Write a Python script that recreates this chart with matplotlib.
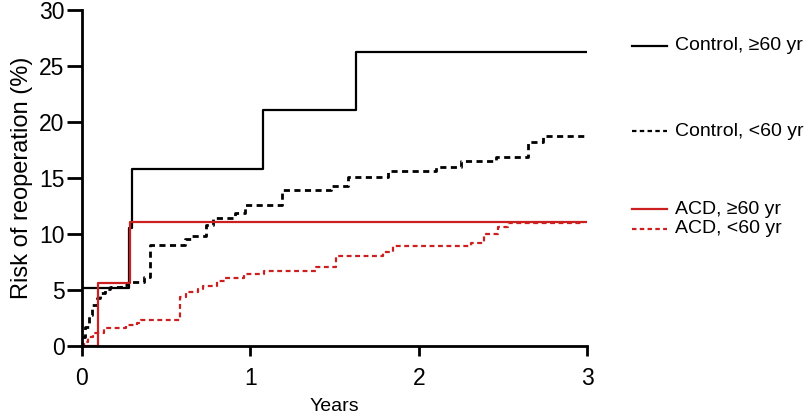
import matplotlib
matplotlib.use("Agg")
import matplotlib.pyplot as plt
from matplotlib.lines import Line2D

plt.rcParams['font.family'] = ['Liberation Sans', 'DejaVu Sans']

# Control, >=60 yr
t_ctrl_old = [0, 0.28, 0.30, 1.075, 1.63, 3.0]
v_ctrl_old = [5.2, 10.5, 15.8, 21.1, 26.3, 26.3]

# Control, <60 yr
t_ctrl_young = [0, 0.02, 0.04, 0.06, 0.09, 0.11, 0.14, 0.17, 0.23, 0.27, 0.29, 0.37,
                0.405, 0.61, 0.65, 0.74, 0.78, 0.91, 0.97, 1.19, 1.48, 1.58, 1.82,
                2.10, 2.25, 2.46, 2.65, 2.74, 2.98]
v_ctrl_young = [0.8, 1.7, 2.8, 3.7, 4.3, 4.7, 5.1, 5.3, 5.45, 5.6, 5.75, 6.2,
                9.0, 9.6, 9.85, 10.8, 11.4, 11.9, 12.6, 13.9, 14.3, 15.1, 15.6,
                16.0, 16.5, 16.9, 18.2, 18.75, 18.75]

# ACD, >=60 yr
t_acd_old = [0, 0.097, 0.285, 3.0]
v_acd_old = [0, 5.6, 11.1, 11.1]

# ACD, <60 yr
t_acd_young = [0, 0.015, 0.035, 0.065, 0.13, 0.26, 0.33, 0.35, 0.58, 0.62, 0.69, 0.72,
               0.80, 0.85, 0.96, 1.08, 1.39, 1.51, 1.79, 1.85, 2.31, 2.39, 2.47, 2.53, 2.98]
v_acd_young = [0, 0.4, 0.8, 1.2, 1.6, 1.9, 2.1, 2.3, 4.4, 4.8, 5.1, 5.4,
               5.8, 6.1, 6.4, 6.7, 7.1, 8.0, 8.4, 8.9, 9.2, 10.0, 10.65, 11.0, 11.0]

labels = ["Control, \u226560 yr", "Control, <60 yr", "ACD, \u226560 yr", "ACD, <60 yr"]
xticks = [0, 1, 2, 3]
yticks = [0, 5, 10, 15, 20, 25, 30]

RED = '#cc1f1f'
fig = plt.figure(figsize=(8.1, 4.2), dpi=100)
ax = fig.add_axes([0.101, 0.176, 0.624, 0.8])

ax.step(t_ctrl_old, v_ctrl_old, where='post', color='black', lw=1.6)
ax.step(t_ctrl_young, v_ctrl_young, where='post', color='black', lw=2.0, dashes=(2.2, 1.6))
ax.step(t_acd_old, v_acd_old, where='post', color=RED, lw=1.6)
ax.step(t_acd_young, v_acd_young, where='post', color=RED, lw=1.6, dashes=(2.2, 1.6))

ax.set_xlim(0, 3)
ax.set_ylim(0, 30)
ax.set_xticks(xticks)
ax.set_yticks(yticks)
for s in ['top', 'right']:
    ax.spines[s].set_visible(False)
for s in ['left', 'bottom']:
    ax.spines[s].set_linewidth(2.0)
ax.tick_params(axis='y', width=2.0, length=10.5, labelsize=16.5, pad=2)
ax.tick_params(axis='x', width=2.0, length=7, labelsize=16.5, pad=8)
ax.set_xlabel("Years", fontsize=14, labelpad=6)
ax.set_ylabel("Risk of reoperation (%)", fontsize=17, labelpad=4)

# manual legend
leg_y = [46, 131, 209, 229]
styles = [dict(color='black', lw=1.6),
          dict(color='black', lw=1.6, dashes=(2.0, 1.5)),
          dict(color=RED, lw=1.6),
          dict(color=RED, lw=1.6, dashes=(2.0, 1.5))]
for lab, py, st in zip(labels, leg_y, styles):
    fy = 1 - py / 420
    fig.add_artist(Line2D([632 / 810, 667 / 810], [fy, fy], transform=fig.transFigure, **st))
    fig.text(675 / 810, fy, lab, fontsize=14, va='center', ha='left')

fig.savefig("out.png", dpi=100)
